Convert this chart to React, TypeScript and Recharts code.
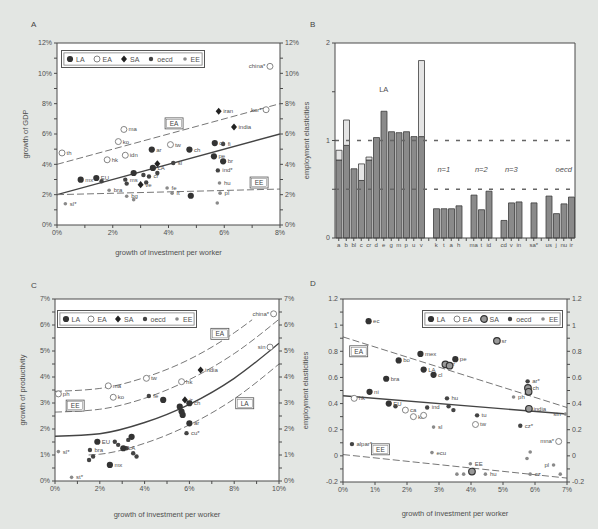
import React from 'react';
import {
  ComposedChart, Scatter, Line, XAxis, YAxis, CartesianGrid, ReferenceLine, ReferenceDot, BarChart, Bar,
} from 'recharts';

const FONT = '"Liberation Sans", Arial, sans-serif';
const TXT = '#505050';
const AX = '#4a4a4a';
const BG = '#e3e6e3';

// ---------- A: growth of GDP vs growth of investment per worker
const aLA = [
  { x: 0.85, y: 2.99, n: 'mx' }, { x: 1.41, y: 3.1, n: 'EU' }, { x: 2.75, y: 3.43, n: '' },
  { x: 3.44, y: 3.76, n: 'LA' }, { x: 3.4, y: 4.97, n: 'ar' }, { x: 4.75, y: 4.97, n: 'ch' },
  { x: 5.66, y: 5.4, n: 'cl' }, { x: 5.63, y: 4.53, n: 'pe' }, { x: 5.96, y: 4.2, n: 'br' },
  { x: 4.8, y: 1.93, n: '' },
];
const aEA = [
  { x: 7.64, y: 10.46, n: 'china*' }, { x: 7.5, y: 7.6, n: 'kor*' }, { x: 2.4, y: 6.3, n: 'ma' },
  { x: 2.2, y: 5.5, n: 'ko' }, { x: 4.07, y: 5.3, n: 'tw' }, { x: 0.18, y: 4.75, n: 'th' },
  { x: 1.8, y: 4.3, n: 'hk' }, { x: 2.45, y: 4.6, n: 'idn' },
];
const aSA = [
  { x: 6.35, y: 6.46, n: 'india' }, { x: 5.8, y: 7.5, n: 'iran' }, { x: 3.6, y: 4.04, n: '' },
  { x: 3.0, y: 2.66, n: 've' },
];
const aOecd = [
  { x: 1.6, y: 2.88, n: '' }, { x: 2.45, y: 2.99, n: 'ms' }, { x: 2.5, y: 2.73, n: '' },
  { x: 3.1, y: 3.3, n: '' }, { x: 3.3, y: 3.2, n: 'cr' }, { x: 3.6, y: 3.43, n: '' },
  { x: 3.2, y: 2.81, n: '' }, { x: 4.17, y: 4.09, n: 'sl' }, { x: 5.96, y: 5.34, n: 'fi' },
  { x: 5.77, y: 3.6, n: 'ind*' },
];
const aEE = [
  { x: 3.95, y: 2.44, n: 'fe' }, { x: 4.13, y: 2.1, n: 'lt' }, { x: 2.5, y: 1.9, n: 'bg' },
  { x: 2.75, y: 1.67, n: '' }, { x: 1.87, y: 2.29, n: 'bra' }, { x: 5.83, y: 2.77, n: 'hu' },
  { x: 5.85, y: 2.1, n: 'pl' }, { x: 5.75, y: 1.45, n: '' }, { x: 0.3, y: 1.4, n: 'sl*' },
];
const aFitAll = [{ x: 0, y: 2 }, { x: 8, y: 6 }];
const aFitEA = [{ x: 0, y: 4 }, { x: 8, y: 8 }];
const aFitEE = [{ x: 0, y: 2 }, { x: 8, y: 2.37 }];
const aBoxes = [{ x: 4.2, y: 6.7, t: 'EA' }, { x: 7.25, y: 2.8, t: 'EE' }];
const aXTicks = [0, 1, 2, 3, 4, 5, 6, 7, 8];
const aYTicks = [0, 1, 2, 3, 4, 5, 6, 7, 8, 9, 10, 11, 12];

// ---------- B: employment elasticities by country
const bLabels = ['a', 'b', 'bl', 'c', 'cr', 'd', 'e', 'g', 'm', 'p', 'u', 'v', '', 'k', 't', 'a', 'h', '',
  'ma', 't', 'id', '', 'cd', 'v', 'in', '', 'sa*', '', 'us', 'j', 'nu', 'ir'];
const bLow = [0.8, 0.95, 0.71, 0.59, 0.8, 1.03, 1.3, 1.09, 1.08, 1.09, 1.04, 1.04, null, 0.3, 0.3, 0.3, 0.33, null,
  0.44, 0.29, 0.48, null, 0.18, 0.36, 0.37, null, 0.36, null, 0.43, 0.25, 0.35, 0.42];
const bHigh = [0.9, 1.21, null, 0.76, 0.83, null, null, null, null, null, null, 1.82, null, null, null, null, null, null,
  null, null, null, null, null, null, null, null, null, null, null, null, null, null];
const bYTicks = [0, 0.5, 1, 1.5, 2];
const bData = bLabels.map((l, i) => ({
  id: 'c' + i,
  lo: bLow[i],
  ex: bHigh[i] != null && bLow[i] != null ? (bHigh[i] as number) - (bLow[i] as number) : null,
}));

// ---------- C: growth of productivity
const cEA = [
  { x: 9.76, y: 6.43, n: 'china*' }, { x: 9.6, y: 5.15, n: 'sin' }, { x: 4.08, y: 3.95, n: 'tw' },
  { x: 5.65, y: 3.82, n: 'hk' }, { x: 0.15, y: 3.35, n: 'ph' }, { x: 2.38, y: 3.66, n: 'ma' },
  { x: 2.6, y: 3.22, n: 'ko' },
];
const cSA = [{ x: 6.5, y: 4.27, n: 'india' }, { x: 5.8, y: 3.12, n: 'ir' }];
const cLA = [
  { x: 4.83, y: 3.12, n: '' }, { x: 6.0, y: 2.99, n: 'ch' }, { x: 5.57, y: 2.86, n: '' },
  { x: 5.65, y: 2.67, n: '' }, { x: 5.7, y: 2.54, n: '' }, { x: 6.0, y: 2.22, n: 'ar' },
  { x: 1.89, y: 1.51, n: 'EU' }, { x: 2.45, y: 0.62, n: 'mx' }, { x: 3.05, y: 1.26, n: 'LA' },
  { x: 3.42, y: 1.7, n: '' },
];
const cOecd = [
  { x: 4.19, y: 3.27, n: 'fe' }, { x: 5.87, y: 1.84, n: 'cu*' }, { x: 1.56, y: 1.19, n: 'bra' },
  { x: 1.7, y: 0.94, n: '' }, { x: 1.52, y: 0.81, n: '' }, { x: 2.82, y: 1.39, n: '' },
  { x: 3.27, y: 1.58, n: '' }, { x: 3.49, y: 1.07, n: '' }, { x: 3.64, y: 0.94, n: '' },
  { x: 2.67, y: 1.51, n: '' }, { x: 3.19, y: 1.26, n: '' },
];
const cEE = [{ x: 0.15, y: 1.13, n: 'sl*' }, { x: 0.74, y: 0.14, n: 'st*' }];
const cFitAll = [{ x: 0, y: 1.72 }, { x: 2, y: 1.82 }, { x: 4, y: 2.25 }, { x: 6, y: 2.95 }, { x: 8, y: 3.95 }, { x: 10, y: 5.3 }];
const cFitLA = [{ x: 1.5, y: 1.0 }, { x: 2, y: 1.03 }, { x: 4, y: 1.45 }, { x: 6, y: 2.16 }, { x: 8, y: 3.16 }, { x: 10, y: 4.5 }];
const cFitEE = [{ x: 0, y: 2.65 }, { x: 2, y: 2.76 }, { x: 4, y: 3.18 }, { x: 6, y: 3.9 }, { x: 8, y: 4.9 }, { x: 10, y: 6.22 }];
const cFitEA = [{ x: 0, y: 3.45 }, { x: 2, y: 3.56 }, { x: 4, y: 3.98 }, { x: 6, y: 4.68 }, { x: 8, y: 5.7 }, { x: 8.8, y: 6.2 }];
const cBoxes = [{ x: 7.36, y: 5.66, t: 'EA' }, { x: 0.9, y: 2.9, t: 'EE' }, { x: 8.47, y: 2.99, t: 'LA' }];
const cXTicks = [0, 1, 2, 3, 4, 5, 6, 7, 8, 9, 10];
const cYTicks = [0, 0.5, 1, 1.5, 2, 2.5, 3, 3.5, 4, 4.5, 5, 5.5, 6, 6.5, 7];

// ---------- D: employment elasticities vs investment
const dLA = [
  { x: 0.8, y: 1.03, n: 'ec' }, { x: 2.42, y: 0.78, n: 'mex' }, { x: 1.74, y: 0.73, n: 'bo' },
  { x: 1.35, y: 0.59, n: 'bra' }, { x: 2.52, y: 0.66, n: 'LA' }, { x: 2.83, y: 0.62, n: 'cl' },
  { x: 0.83, y: 0.49, n: 'ni' }, { x: 1.43, y: 0.4, n: 'EU' }, { x: 3.51, y: 0.74, n: 'pe' },
];
const dEA = [
  { x: 0.35, y: 0.44, n: 'hk' }, { x: 1.95, y: 0.35, n: 'ca' }, { x: 2.2, y: 0.3, n: 'ko' },
  { x: 2.52, y: 0.31, n: '' }, { x: 4.14, y: 0.24, n: 'tw' }, { x: 6.74, y: 0.11, n: 'mna*' },
];
const dSA = [
  { x: 4.81, y: 0.88, n: 'sr' }, { x: 3.2, y: 0.7, n: 'cr' }, { x: 3.33, y: 0.69, n: '' },
  { x: 5.78, y: 0.52, n: 'ch' }, { x: 5.8, y: 0.49, n: '' }, { x: 5.81, y: 0.36, n: 'india' },
  { x: 4.03, y: -0.12, n: '' },
];
const dOecd = [
  { x: 3.25, y: 0.44, n: 'hu' }, { x: 3.3, y: 0.38, n: '' }, { x: 1.64, y: 0.38, n: '' },
  { x: 2.63, y: 0.37, n: 'ind' }, { x: 5.77, y: 0.57, n: 'ar*' }, { x: 5.54, y: 0.23, n: 'cz*' },
  { x: 0.28, y: 0.09, n: 'alpar*' }, { x: 3.45, y: 0.35, n: '' }, { x: 4.19, y: 0.31, n: 'tu' },
];
const dEE = [
  { x: 2.83, y: 0.22, n: 'sl' }, { x: 2.78, y: 0.025, n: 'ecu' }, { x: 3.98, y: -0.06, n: 'EE' },
  { x: 3.77, y: -0.14, n: '' }, { x: 3.56, y: -0.14, n: '' }, { x: 4.45, y: -0.14, n: 'hu' },
  { x: 5.85, y: -0.14, n: 'cz' }, { x: 6.58, y: -0.07, n: 'pl' }, { x: 6.79, y: -0.14, n: '' },
  { x: 5.85, y: 0.03, n: '' }, { x: 5.75, y: -0.02, n: '' }, { x: 6.95, y: 0.32, n: 'sin' },
  { x: 5.33, y: 0.45, n: 'ph' },
];
const dFitEA = [{ x: 0, y: 0.91 }, { x: 7, y: 0.37 }];
const dFitAll = [{ x: 0, y: 0.46 }, { x: 7, y: 0.32 }];
const dFitEE = [{ x: 0, y: 0.01 }, { x: 7, y: -0.17 }];
const dBoxes = [{ x: 0.49, y: 0.8, t: 'EA' }, { x: 1.17, y: 0.05, t: 'EE' }];
const dXTicks = [0, 1, 2, 3, 4, 5, 6, 7];
const dYTicks = [-0.2, -0.1, 0, 0.1, 0.2, 0.3, 0.4, 0.5, 0.6, 0.7, 0.8, 0.9, 1, 1.1, 1.2];

type Kind = 'LA' | 'EA' | 'SA' | 'SAc' | 'oecd' | 'EE';

function Marker({ kind, cx, cy }: { kind: Kind; cx: number; cy: number }) {
  switch (kind) {
    case 'LA': return <circle cx={cx} cy={cy} r={3.1} fill="#333" />;
    case 'EA': return <circle cx={cx} cy={cy} r={3} fill="#fff" stroke="#777" strokeWidth={0.9} />;
    case 'SA': return <path d={`M${cx},${cy - 3.6}L${cx + 3},${cy}L${cx},${cy + 3.6}L${cx - 3},${cy}Z`} fill="#222" />;
    case 'SAc': return <circle cx={cx} cy={cy} r={3.3} fill="#999" stroke="#333" strokeWidth={1.2} />;
    case 'oecd': return <circle cx={cx} cy={cy} r={2.2} fill="#444" />;
    default: return <circle cx={cx} cy={cy} r={1.8} fill="#8a8a8a" />;
  }
}

const pointShape = (kind: Kind, xMax: number) => (p: any) => {
  const { cx, cy, payload } = p;
  if (cx == null || cy == null) return <g />;
  const left = payload.x > xMax * 0.9;
  return (
    <g>
      <Marker kind={kind} cx={cx} cy={cy} />
      {payload.n ? (
        <text x={left ? cx - 4.5 : cx + 4.5} y={cy + 2} fontSize={6} fill={TXT}
          textAnchor={left ? 'end' : 'start'} fontFamily={FONT}>{payload.n}</text>
      ) : null}
    </g>
  );
};

const boxShape = (p: any) => {
  const { cx, cy, payload } = p;
  if (cx == null || cy == null) return <g />;
  return (
    <g>
      <rect x={cx - 9} y={cy - 5.5} width={18} height={11} fill="#fff" stroke="#555" strokeWidth={0.8} />
      <rect x={cx - 7.5} y={cy - 4} width={15} height={8} fill="none" stroke="#777" strokeWidth={0.5} />
      <text x={cx} y={cy + 2.5} textAnchor="middle" fontSize={6.5} fill="#444" fontFamily={FONT}>{payload.t}</text>
    </g>
  );
};

function LegendBox({ left, top, width, sa }: { left: number; top: number; width: number; sa: Kind }) {
  const items: [Kind, string][] = [['LA', 'LA'], ['EA', 'EA'], [sa, 'SA'], ['oecd', 'oecd'], ['EE', 'EE']];
  return (
    <div style={{
      position: 'absolute', left, top, width, height: 18, boxSizing: 'border-box',
      border: '1px solid #555', background: '#fff', display: 'flex', alignItems: 'center',
      justifyContent: 'space-around', fontSize: 7, color: TXT, fontFamily: FONT,
      boxShadow: 'inset 0 0 0 1.5px #fff, inset 0 0 0 2.3px #777',
    }}>
      {items.map(([k, l]) => (
        <span key={l} style={{ display: 'flex', alignItems: 'center', gap: 2 }}>
          <svg width={8} height={8}><Marker kind={k} cx={4} cy={4} /></svg>{l}
        </span>
      ))}
    </div>
  );
}

interface Group { kind: Kind; data: { x: number; y: number; n: string }[] }
interface Fit { data: { x: number; y: number }[]; dash?: boolean; curve?: boolean }

interface ScatterPanelProps {
  width: number; height: number;
  margin: { top: number; right: number; bottom: number; left: number };
  leftW: number; rightW: number; xH: number;
  xMax: number; xTicks: number[]; fmtX: (v: number) => string;
  yMin: number; yMax: number; yTicks: number[]; fmtY: (v: number) => string;
  yLabel: string; yLabelOff: number;
  groups: Group[]; fits: Fit[]; boxes: { x: number; y: number; t: string }[];
}

const tickStyle = { fontSize: 7, fill: TXT, fontFamily: FONT };

function ScatterPanel(p: ScatterPanelProps) {
  return (
    <ComposedChart width={p.width} height={p.height} margin={p.margin}>
      <CartesianGrid yAxisId="l" horizontal={false} vertical={false} fill="#fff" />
      <XAxis type="number" dataKey="x" domain={[0, p.xMax]} ticks={p.xTicks} interval={0}
        tickFormatter={p.fmtX} allowDataOverflow stroke={AX} tick={tickStyle} tickSize={3} height={p.xH}
        label={{ value: 'growth of investment per worker', position: 'insideBottom', offset: 0, style: { fontSize: 7.5, fill: TXT, fontFamily: FONT } }} />
      <YAxis yAxisId="l" type="number" dataKey="y" domain={[p.yMin, p.yMax]} ticks={p.yTicks} interval={0}
        tickFormatter={p.fmtY} allowDataOverflow stroke={AX} tick={tickStyle} tickSize={3} width={p.leftW}
        label={{ value: p.yLabel, angle: -90, position: 'insideLeft', offset: p.yLabelOff, style: { textAnchor: 'middle', fontSize: 7.5, fill: TXT, fontFamily: FONT } }} />
      <YAxis yAxisId="r" orientation="right" type="number" domain={[p.yMin, p.yMax]} ticks={p.yTicks} interval={0}
        tickFormatter={p.fmtY} allowDataOverflow stroke={AX} tick={tickStyle} tickSize={3} width={p.rightW} />
      <ReferenceLine yAxisId="l" y={p.yMax} stroke={AX} strokeWidth={1} />
      {p.fits.map((f, i) => (
        <Line key={'f' + i} yAxisId="l" data={f.data} dataKey="y" type={f.curve ? 'monotone' : 'linear'}
          stroke={f.dash ? '#777' : '#444'} strokeWidth={f.dash ? 1 : 1.4}
          strokeDasharray={f.dash ? '7 3' : undefined} dot={false} activeDot={false} isAnimationActive={false} />
      ))}
      {p.groups.map((g, i) => (
        <Scatter key={'g' + i} yAxisId="l" data={g.data} shape={pointShape(g.kind, p.xMax)} isAnimationActive={false} />
      ))}
      <Scatter yAxisId="l" data={p.boxes} shape={boxShape} isAnimationActive={false} />
    </ComposedChart>
  );
}

const pct = (v: number) => `${v}%`;
const evenPct = (v: number) => (v % 2 === 0 ? `${v}%` : '');
const intPct = (v: number) => (Number.isInteger(v) ? `${v}%` : '');
const dFmt = (v: number) => {
  const k = Math.round(v * 10);
  return k % 2 === 0 ? String(k / 10) : '';
};

function PanelB() {
  const lbl = { fontSize: 7.5, fill: TXT, fontFamily: FONT, fontStyle: 'italic' as const };
  return (
    <BarChart width={298} height={260} data={bData} margin={{ top: 43, right: 8, bottom: 8, left: 4 }}
      barSize={6} barCategoryGap={1}>
      <CartesianGrid yAxisId="l" horizontal={false} vertical={false} fill="#fff" />
      <XAxis dataKey="id" interval={0} tickFormatter={(_v: any, i: number) => bLabels[i]} stroke={AX}
        tick={{ fontSize: 6, fill: TXT, fontFamily: FONT }} tickSize={3} height={14} />
      <YAxis yAxisId="l" domain={[0, 2]} ticks={bYTicks} interval={0} stroke={AX} tick={tickStyle} tickSize={3}
        tickFormatter={(v: number) => (Number.isInteger(v) ? String(v) : '')} width={31}
        label={{ value: 'employment elasticities', angle: -90, position: 'insideLeft', offset: 2, style: { textAnchor: 'middle', fontSize: 7.5, fill: TXT, fontFamily: FONT } }} />
      <YAxis yAxisId="r" orientation="right" domain={[0, 2]} ticks={bYTicks} interval={0} stroke={AX} tick={tickStyle}
        tickSize={3} tickFormatter={(v: number) => (Number.isInteger(v) ? String(v) : '')} width={15} />
      <ReferenceLine yAxisId="l" y={2} stroke={AX} />
      <ReferenceLine yAxisId="l" y={1} stroke="#666" strokeWidth={1.3} strokeDasharray="4 7" />
      <ReferenceLine yAxisId="l" y={0.5} stroke="#666" strokeWidth={1.3} strokeDasharray="4 7" />
      <Bar yAxisId="l" dataKey="lo" stackId="s" fill="#8a8a8a" stroke="#3c3c3c" strokeWidth={0.8} isAnimationActive={false} />
      <Bar yAxisId="l" dataKey="ex" stackId="s" fill="#e4e4e4" stroke="#3c3c3c" strokeWidth={0.8} isAnimationActive={false} />
      <ReferenceDot yAxisId="l" x="c6" y={1.52} r={1} fill="none" stroke="none" label={{ value: 'LA', position: 'center', style: { ...lbl, fontStyle: 'normal' } }} />
      <ReferenceDot yAxisId="l" x="c14" y={0.7} r={1} fill="none" stroke="none" label={{ value: 'n=1', position: 'center', style: lbl }} />
      <ReferenceDot yAxisId="l" x="c19" y={0.7} r={1} fill="none" stroke="none" label={{ value: 'n=2', position: 'center', style: lbl }} />
      <ReferenceDot yAxisId="l" x="c23" y={0.7} r={1} fill="none" stroke="none" label={{ value: 'n=3', position: 'center', style: lbl }} />
      <ReferenceDot yAxisId="l" x="c30" y={0.7} r={1} fill="none" stroke="none" label={{ value: 'oecd', position: 'center', style: lbl }} />
    </BarChart>
  );
}

const letter = (t: string, left: number, top: number) => (
  <div style={{ position: 'absolute', left, top, fontSize: 8, color: '#444', fontFamily: FONT }}>{t}</div>
);

export default function App() {
  return (
    <div style={{ position: 'absolute', left: 0, top: 0, width: 598, height: 529, background: BG, overflow: 'hidden' }}>
      <div style={{ position: 'absolute', left: 0, top: 0 }}>
        <ScatterPanel width={300} height={260} margin={{ top: 43, right: 0, bottom: 5, left: 22 }}
          leftW={35} rightW={20} xH={30} xMax={8} xTicks={aXTicks} fmtX={evenPct}
          yMin={0} yMax={12} yTicks={aYTicks} fmtY={evenPct} yLabel="growth of GDP" yLabelOff={3}
          groups={[{ kind: 'EE', data: aEE }, { kind: 'oecd', data: aOecd }, { kind: 'EA', data: aEA }, { kind: 'SA', data: aSA }, { kind: 'LA', data: aLA }]}
          fits={[{ data: aFitAll }, { data: aFitEA, dash: true }, { data: aFitEE, dash: true }]}
          boxes={aBoxes} />
      </div>
      <div style={{ position: 'absolute', left: 300, top: 0 }}><PanelB /></div>
      <div style={{ position: 'absolute', left: 0, top: 260 }}>
        <ScatterPanel width={300} height={269} margin={{ top: 39, right: 0, bottom: 12, left: 20 }}
          leftW={35} rightW={21} xH={36} xMax={10} xTicks={cXTicks} fmtX={evenPct}
          yMin={0} yMax={7} yTicks={cYTicks} fmtY={intPct} yLabel="growth of productivity" yLabelOff={2}
          groups={[{ kind: 'EE', data: cEE }, { kind: 'oecd', data: cOecd }, { kind: 'EA', data: cEA }, { kind: 'SA', data: cSA }, { kind: 'LA', data: cLA }]}
          fits={[{ data: cFitAll, curve: true }, { data: cFitLA, dash: true, curve: true }, { data: cFitEE, dash: true, curve: true }, { data: cFitEA, dash: true, curve: true }]}
          boxes={cBoxes} />
      </div>
      <div style={{ position: 'absolute', left: 300, top: 260 }}>
        <ScatterPanel width={298} height={269} margin={{ top: 39, right: 6, bottom: 13, left: 3 }}
          leftW={40} rightW={25} xH={34} xMax={7} xTicks={dXTicks} fmtX={pct}
          yMin={-0.2} yMax={1.2} yTicks={dYTicks} fmtY={dFmt} yLabel="employment elasticities" yLabelOff={2}
          groups={[{ kind: 'EE', data: dEE }, { kind: 'oecd', data: dOecd }, { kind: 'EA', data: dEA }, { kind: 'SAc', data: dSA }, { kind: 'LA', data: dLA }]}
          fits={[{ data: dFitAll }, { data: dFitEA, dash: true }, { data: dFitEE, dash: true }]}
          boxes={dBoxes} />
      </div>
      <LegendBox left={61} top={50} width={144} sa="SA" />
      <LegendBox left={57} top={310} width={140} sa="SA" />
      <LegendBox left={422} top={310} width={141} sa="SAc" />
      {letter('A', 31, 20)}
      {letter('B', 310, 20)}
      {letter('C', 31, 281)}
      {letter('D', 310, 279)}
    </div>
  );
}
